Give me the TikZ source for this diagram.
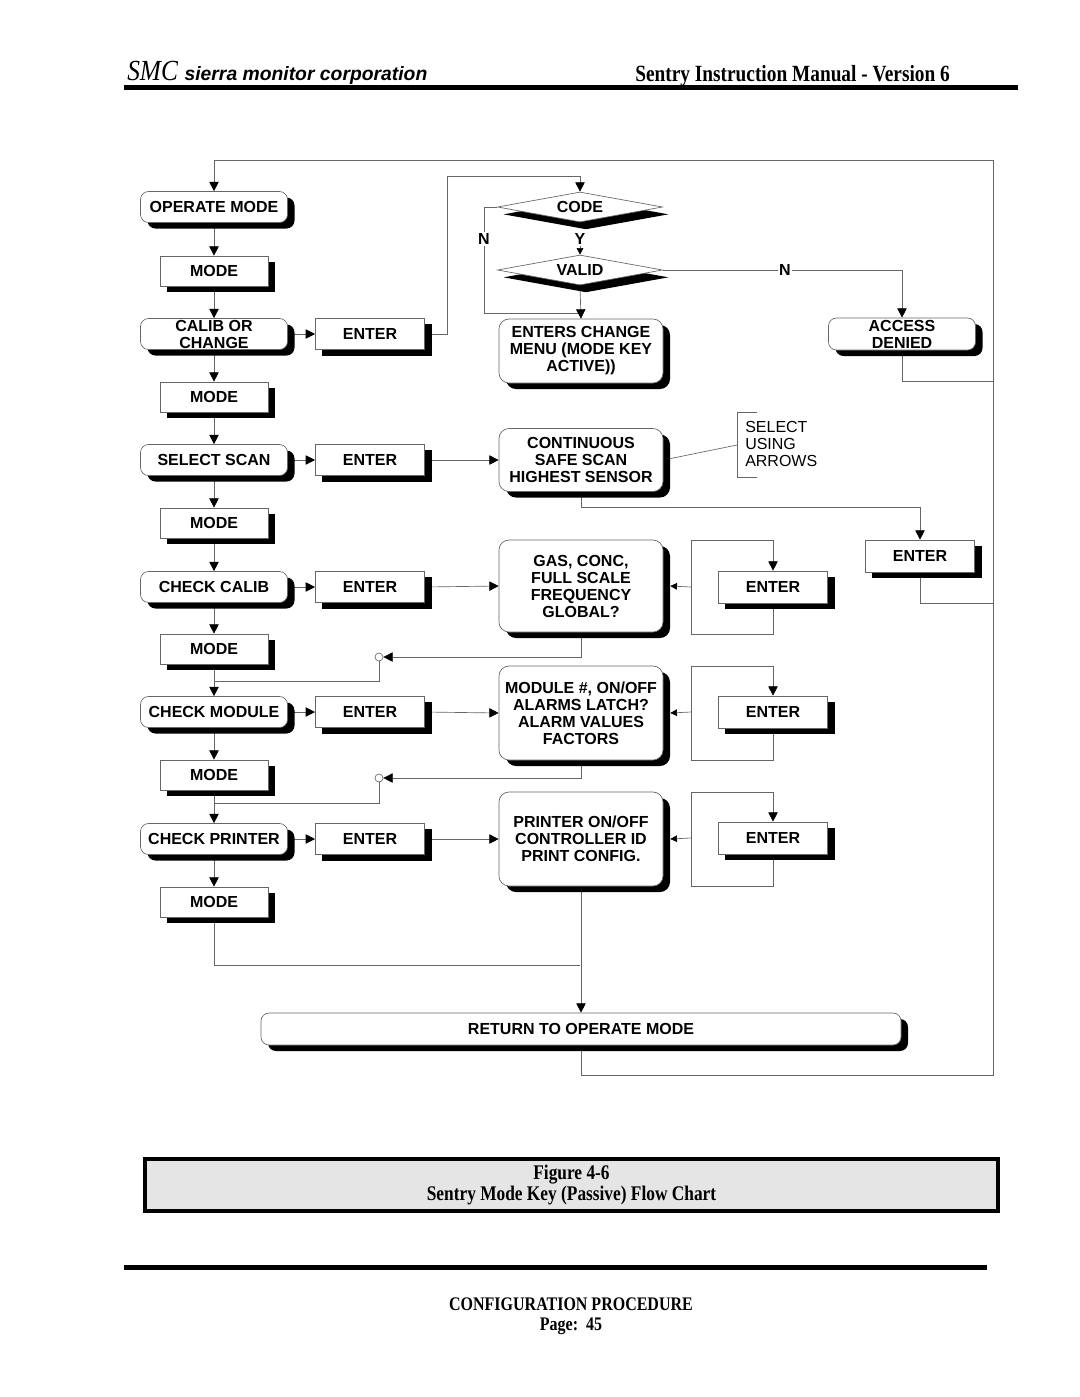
\documentclass[tikz,border=0pt]{standalone}
\usepackage{fontspec}
\setmainfont{Liberation Serif}
\setsansfont{Liberation Sans}
\usepackage{graphicx}
\usepackage{tikz}
\usetikzlibrary{shapes.geometric,arrows.meta,backgrounds}

\begin{document}
\begin{tikzpicture}[x=0.75pt,y=0.75pt,yscale=-1,xscale=1,
        keyfont/.style={font=\sffamily\bfseries\fontsize{12}{12.75}\selectfont},
        shadowed/.style={preaction={fill=black,transform canvas={xshift=5.25pt,yshift=-4.5pt}}},
        keybox/.style={keyfont,shadowed,draw=black!60,line width=0.5pt,fill=white,align=center,inner sep=0pt},
        stepbox/.style={keybox,rounded corners=6pt,minimum width=110.25pt,minimum height=23.25pt},
        modebox/.style={keybox,minimum width=81pt,minimum height=22.5pt},
        enterbox/.style={keybox,minimum width=82pt,minimum height=23.5pt},
        infobox/.style={keybox,rounded corners=7.5pt,minimum width=123pt},
        askbox/.style={keyfont,preaction={fill=black,transform canvas={xshift=4.5pt,yshift=-5.5pt}},draw=black!60,line width=0.5pt,fill=white,diamond,aspect=5.5,inner sep=0pt,minimum width=123.75pt,minimum height=22.5pt},
        tag/.style={keyfont,fill=white,inner sep=1pt},
        hook/.style={circle,draw=black!60,line width=0.5pt,fill=white,inner sep=0pt,minimum size=6pt},
        wire/.style={draw=black!60,line width=0.5pt},
        flow/.style={wire,-{Triangle[length=7pt,width=7pt,color=black]}},
        smallflow/.style={wire,-{Triangle[length=5pt,width=5pt,color=black]}}]
        \useasboundingbox (0,0) rectangle (1080,1397);

        % page header
        \node[anchor=base west,inner sep=0pt] (brand) at (127,80) {\scalebox{1}[1.15]{\fontsize{19}{19}\selectfont\itshape SMC}\hspace{5pt}\sffamily\bfseries\itshape\fontsize{14.5}{16}\selectfont sierra monitor corporation};
        \node[anchor=base west,inner sep=0pt] (title) at (635,81) {\scalebox{1}[1.2]{\bfseries\fontsize{14.5}{16}\selectfont Sentry Instruction Manual - Version 6}};
        \fill (124,85) rectangle (1018,90);

        % key column
        \node[stepbox] (om) at (214,207) {OPERATE MODE};
        \node[modebox] (m1) at (214,271) {MODE};
        \node[stepbox] (calib) at (214,334) {CALIB OR\\CHANGE};
        \node[modebox] (m2) at (214,397) {MODE};
        \node[stepbox] (scan) at (214,460) {SELECT SCAN};
        \node[modebox] (m3) at (214,523) {MODE};
        \node[stepbox] (chkcal) at (214,587) {CHECK CALIB};
        \node[modebox] (m4) at (214,649) {MODE};
        \node[stepbox] (chkmod) at (214,712) {CHECK MODULE};
        \node[modebox] (m5) at (214,775) {MODE};
        \node[stepbox] (chkprn) at (214,839) {CHECK PRINTER};
        \node[modebox] (m6) at (214,902) {MODE};

        \node[enterbox] (e1) at (370,334) {ENTER};
        \node[enterbox] (e2) at (370,460) {ENTER};
        \node[enterbox] (e3) at (370,587) {ENTER};
        \node[enterbox] (e4) at (370,712) {ENTER};
        \node[enterbox] (e5) at (370,839) {ENTER};

        % code check
        \node[askbox] (code) at (580,207) {CODE};
        \node[tag] (nleft) at (484,239) {N};
        \node[tag] (ylab) at (580,239) {Y};
        \node[askbox] (valid) at (580,270) {VALID};
        \node[tag] (nright) at (785,270) {N};
        \node[infobox,minimum height=48pt] (menu) at (581,351) {ENTERS CHANGE\\MENU (MODE KEY\\ACTIVE))};
        \node[stepbox,minimum height=24pt] (denied) at (902,334) {ACCESS\\DENIED};

        % menus
        \node[infobox,minimum height=47.25pt] (cont) at (581,460) {CONTINUOUS\\SAFE SCAN\\HIGHEST SENSOR};
        \node[anchor=west,align=left,inner sep=0pt,font=\sffamily\fontsize{12}{12.75}\selectfont] (sel) at (745,444) {SELECT\\USING\\ARROWS};
        \node[enterbox,minimum height=24pt] (er) at (920,556) {ENTER};
        \node[infobox,minimum height=69pt] (gas) at (581,586) {GAS, CONC,\\FULL SCALE\\FREQUENCY\\GLOBAL?};
        \node[enterbox,minimum height=24pt] (ef1) at (773,587) {ENTER};
        \node[infobox,minimum height=70.5pt] (modinfo) at (581,713) {MODULE \#, ON/OFF\\ALARMS LATCH?\\ALARM VALUES\\FACTORS};
        \node[enterbox,minimum height=24pt] (ef2) at (773,712) {ENTER};
        \node[infobox,minimum height=70.5pt] (prninfo) at (581,839) {PRINTER ON/OFF\\CONTROLLER ID\\PRINT CONFIG.};
        \node[enterbox,minimum height=24pt] (ef3) at (773,838) {ENTER};
        \node[hook] (c1) at (379,657) {};
        \node[hook] (c2) at (379,778) {};

        \node[keybox,rounded corners=6pt,minimum width=480pt,minimum height=24pt] (ret) at (581,1029) {RETURN TO OPERATE MODE};

        \coordinate (codein) at (580,176);
        \coordinate (njoin) at (580,313);
        \coordinate (ftop) at (993,160);
        \coordinate (fbot) at (993,1075);
        \coordinate (fden) at (993,381);
        \coordinate (fer) at (993,603);
        \coordinate (brk) at (737,445);
        \coordinate (j1) at (214,681);
        \coordinate (j2) at (214,803);
        \coordinate (j3) at (580,965);

        \begin{pgfonlayer}{background}
        \fill[white] (0,0) rectangle (1080,1397);
        % connectors
        \foreach \a/\b in {om/m1,m1/calib,calib/m2,m2/scan,scan/m3,m3/chkcal,chkcal/m4,m4/chkmod,chkmod/m5,m5/chkprn,chkprn/m6}
            \draw[flow] (\a.south) -- (\b.north);
        \foreach \a/\b in {calib/e1,scan/e2,chkcal/e3,chkmod/e4,chkprn/e5,e2/cont,e3/gas,e4/modinfo,e5/prninfo}
            \draw[flow] (\a.east) -- (\b.west);
        \draw[flow] (e1.east) -- ++(22,0) |- (codein) -- (code.north);
        \draw[wire] (code.west) -| (nleft.north);
        \draw[wire] (nleft.south) |- (njoin);
        \draw[smallflow] (ylab.south) -- (valid.north);
        \draw[flow] (valid.south) -- (menu.north);
        \draw[wire] (valid.east) -- (nright.west);
        \draw[flow] (nright.east) -| (denied.north);
        \draw[wire] (denied.south) |- (fden);
        \draw[wire] (cont.east) -- (brk);
        \draw[wire] (757,412) -- (737,412) -- (737,477) -- (757,477);
        \draw[flow] (cont.south) -- ++(0,15) -| (er.north);
        \draw[wire] (er.south) |- (fer);
        \draw[flow] (ef1.south) -- ++(0,31) -| ++(-82,-94) -| (ef1.north);
        \draw[flow] (ef2.south) -- ++(0,32) -| ++(-82,-94) -| (ef2.north);
        \draw[flow] (ef3.south) -- ++(0,32) -| ++(-82,-94) -| (ef3.north);
        \draw[smallflow] (ef1.west) ++(-27,0) -- ([xshift=5.25pt]gas.east);
        \draw[smallflow] (ef2.west) ++(-27,0) -- ([xshift=5.25pt]modinfo.east);
        \draw[smallflow] (ef3.west) ++(-27,0) -- ([xshift=5.25pt]prninfo.east);
        \draw[flow] (gas.south) |- (c1.east);
        \draw[wire] (c1.south) |- (j1);
        \draw[flow] (modinfo.south) |- (c2.east);
        \draw[wire] (c2.south) |- (j2);
        \draw[wire] (m6.south) |- (j3);
        \draw[flow] (prninfo.south) -- (ret.north);
        \draw[flow] (ret.south) |- (fbot) -- (ftop) -| (om.north);
        \end{pgfonlayer}

        % caption and footer
        \node[draw,line width=3pt,fill=black!10,minimum width=640pt,minimum height=39pt,align=center,font=\bfseries\fontsize{13}{15.5}\selectfont] (figcap) at (571.5,1185) {\scalebox{1}[1.2]{Figure 4-6}\\\scalebox{1}[1.2]{Sentry Mode Key (Passive) Flow Chart}};
        \fill (124,1265) rectangle (987,1270);
        \node[align=center,inner sep=0pt,font=\bfseries\fontsize{12}{15}\selectfont] (foot) at (571,1316) {\scalebox{1}[1.2]{CONFIGURATION PROCEDURE}\\\scalebox{1}[1.2]{Page:\ \ 45}};
    \end{tikzpicture}
\end{document}
